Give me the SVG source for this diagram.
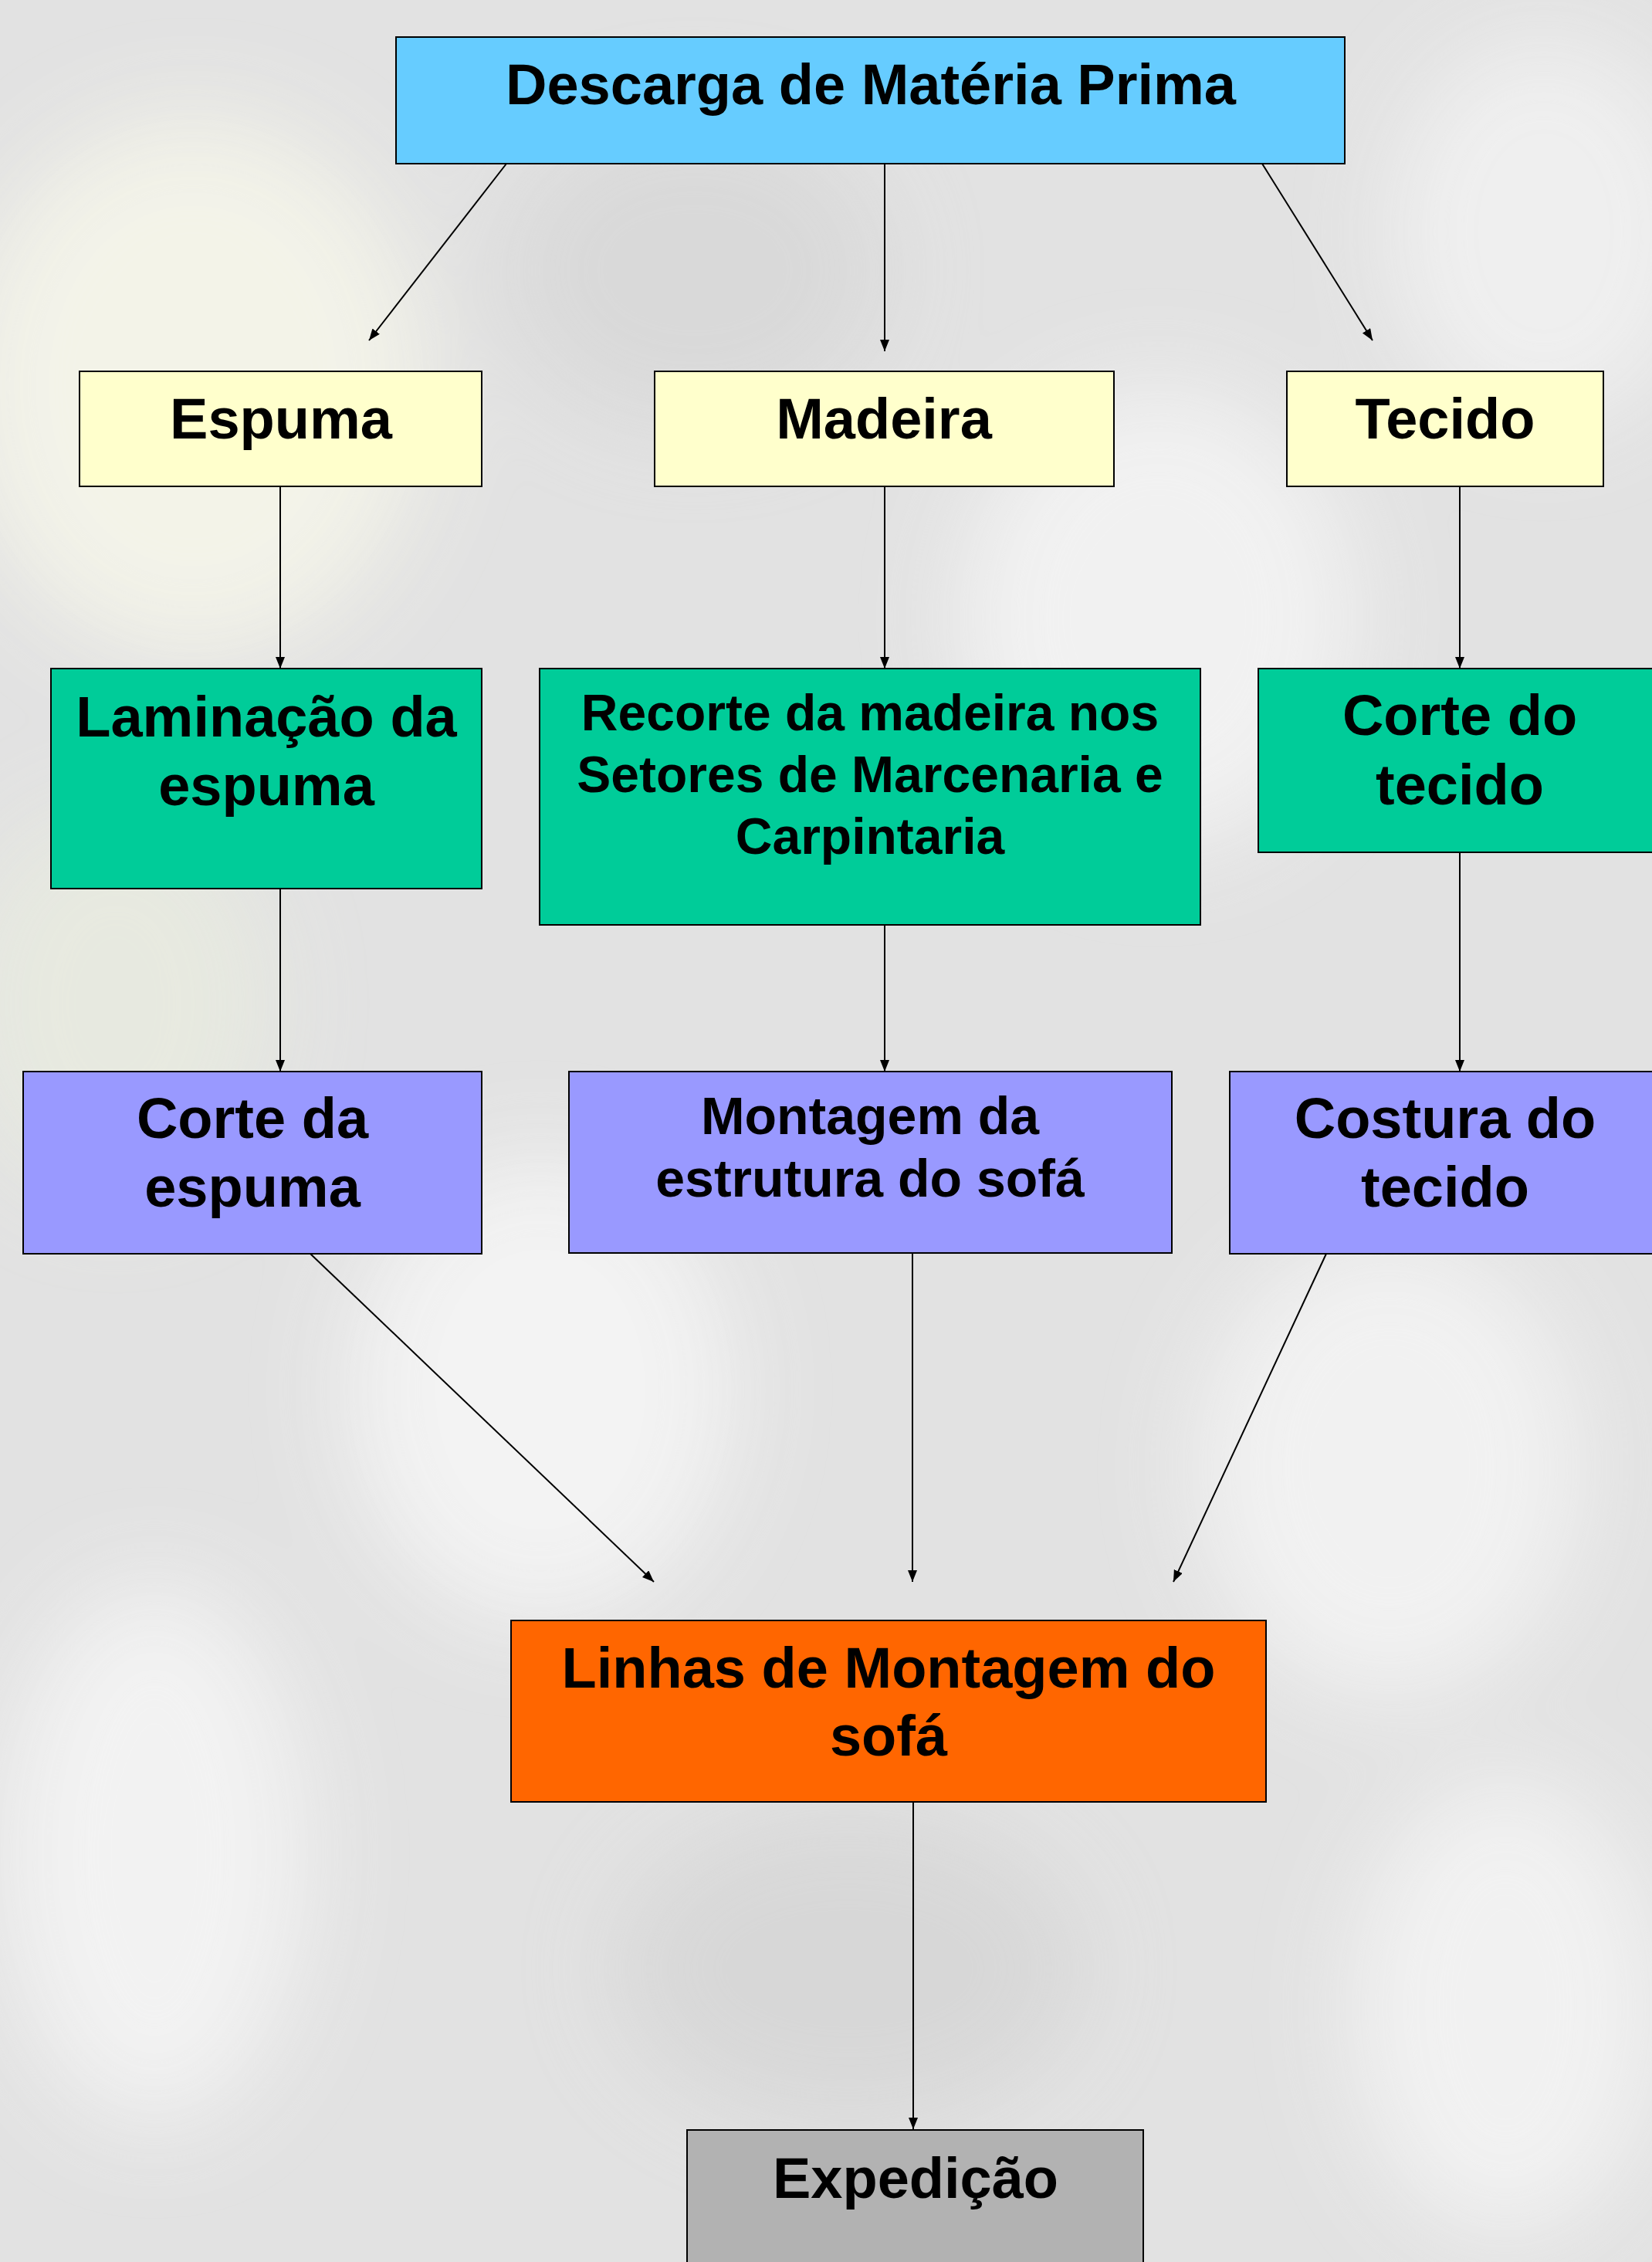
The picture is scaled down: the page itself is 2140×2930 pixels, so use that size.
<svg xmlns="http://www.w3.org/2000/svg" width="2140" height="2930" viewBox="0 0 2140 2930">
<defs>
<filter id="blur" x="-50%" y="-50%" width="200%" height="200%"><feGaussianBlur stdDeviation="60"/></filter>
<marker id="arr" markerUnits="userSpaceOnUse" markerWidth="16" markerHeight="14" refX="15" refY="6" orient="auto">
<path d="M0,0 L15,6 L0,12 z" fill="#000"/>
</marker>
<style>
.box{stroke:#000;stroke-width:2}
.t{font-family:"Liberation Sans",Arial,sans-serif;font-weight:bold;font-size:74px;fill:#000;text-anchor:middle}
.s{font-size:66px}
.m{font-size:68px}
.c{stroke:#000;stroke-width:2;fill:none;marker-end:url(#arr)}
</style>
</defs>
<g id="background">
<rect x="0" y="0" width="2140" height="2930" fill="#e2e2e2"/>
<g filter="url(#blur)" opacity="0.85">
<ellipse cx="250" cy="500" rx="300" ry="350" fill="#f6f6ea"/>
<ellipse cx="1500" cy="800" rx="260" ry="300" fill="#f4f4f4"/>
<ellipse cx="2000" cy="300" rx="200" ry="250" fill="#f2f2f2"/>
<ellipse cx="150" cy="1300" rx="200" ry="250" fill="#e8ebe0"/>
<ellipse cx="700" cy="1800" rx="250" ry="300" fill="#f6f6f6"/>
<ellipse cx="1800" cy="1900" rx="250" ry="300" fill="#f4f4f4"/>
<ellipse cx="200" cy="2400" rx="200" ry="350" fill="#f5f5f5"/>
<ellipse cx="1950" cy="2600" rx="200" ry="300" fill="#f4f4f4"/>
<ellipse cx="1100" cy="2550" rx="300" ry="200" fill="#d6d6d6"/>
<ellipse cx="900" cy="350" rx="250" ry="200" fill="#d8d8d8"/>
</g>
</g>
<g id="connectors">
<line class="c" x1="656" y1="212" x2="478" y2="441"/>
<line class="c" x1="1146" y1="212" x2="1146" y2="455"/>
<line class="c" x1="1635" y1="212" x2="1778" y2="441"/>
<line class="c" x1="363" y1="630" x2="363" y2="866"/>
<line class="c" x1="1146" y1="630" x2="1146" y2="866"/>
<line class="c" x1="1891" y1="630" x2="1891" y2="866"/>
<line class="c" x1="363" y1="1151" x2="363" y2="1388"/>
<line class="c" x1="1146" y1="1198" x2="1146" y2="1388"/>
<line class="c" x1="1891" y1="1104" x2="1891" y2="1388"/>
<line class="c" x1="402" y1="1624" x2="847" y2="2049"/>
<line class="c" x1="1182" y1="1623" x2="1182" y2="2049"/>
<line class="c" x1="1718" y1="1624" x2="1520" y2="2049"/>
<line class="c" x1="1183" y1="2334" x2="1183" y2="2758"/>
</g>
<g id="descarga">
<rect class="box" x="513" y="48" width="1229" height="164" fill="#66ccff"/>
<text class="t" x="1128" y="135">Descarga de Matéria Prima</text>
</g>
<g id="espuma">
<rect class="box" x="103" y="481" width="521" height="149" fill="#ffffcc"/>
<text class="t" x="364" y="568">Espuma</text>
</g>
<g id="madeira">
<rect class="box" x="848" y="481" width="595" height="149" fill="#ffffcc"/>
<text class="t" x="1145" y="568">Madeira</text>
</g>
<g id="tecido">
<rect class="box" x="1667" y="481" width="410" height="149" fill="#ffffcc"/>
<text class="t" x="1872" y="568">Tecido</text>
</g>
<g id="laminacao">
<rect class="box" x="66" y="866" width="558" height="285" fill="#00cc99"/>
<text class="t" x="345" y="954">Laminação da</text>
<text class="t" x="345" y="1043">espuma</text>
</g>
<g id="recorte">
<rect class="box" x="699" y="866" width="856" height="332" fill="#00cc99"/>
<text class="t s" x="1127" y="946">Recorte da madeira nos</text>
<text class="t s" x="1127" y="1026">Setores de Marcenaria e</text>
<text class="t s" x="1127" y="1106">Carpintaria</text>
</g>
<g id="corte-tecido">
<rect class="box" x="1630" y="866" width="522" height="238" fill="#00cc99"/>
<text class="t" x="1891" y="952">Corte do</text>
<text class="t" x="1891" y="1042">tecido</text>
</g>
<g id="corte-espuma">
<rect class="box" x="30" y="1388" width="594" height="236" fill="#9999ff"/>
<text class="t" x="327" y="1474">Corte da</text>
<text class="t" x="327" y="1563">espuma</text>
</g>
<g id="montagem">
<rect class="box" x="737" y="1388" width="781" height="235" fill="#9999ff"/>
<text class="t m" x="1127" y="1469">Montagem da</text>
<text class="t m" x="1127" y="1550">estrutura do sofá</text>
</g>
<g id="costura">
<rect class="box" x="1593" y="1388" width="558" height="236" fill="#9999ff"/>
<text class="t" x="1872" y="1474">Costura do</text>
<text class="t" x="1872" y="1563">tecido</text>
</g>
<g id="linhas">
<rect class="box" x="662" y="2099" width="978" height="235" fill="#ff6600"/>
<text class="t" x="1151" y="2186">Linhas de Montagem do</text>
<text class="t" x="1151" y="2274">sofá</text>
</g>
<g id="expedicao">
<rect class="box" x="890" y="2759" width="591" height="200" fill="#b2b2b2"/>
<text class="t" x="1186" y="2847">Expedição</text>
</g>
</svg>
